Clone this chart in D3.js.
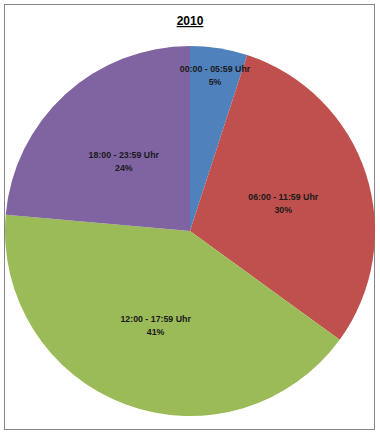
<!DOCTYPE html>
<html>
<head>
<meta charset="utf-8">
<script src="https://cdn.jsdelivr.net/npm/d3@7"></script>
<style>
html,body{margin:0;padding:0;background:#fff;}
svg{display:block;}
</style>
</head>
<body>
<svg id="chart" width="380" height="434"></svg>
<script>
const title = "2010";
const categories = ["00:00 - 05:59 Uhr", "06:00 - 11:59 Uhr", "12:00 - 17:59 Uhr", "18:00 - 23:59 Uhr"];
const values = [5.0, 30.0, 41.4, 23.6];
const colors = ["#4F81BD", "#C0504D", "#9BBB59", "#8064A2"];

const svg = d3.select("#chart");

svg.append("rect")
  .attr("x", 4.5).attr("y", 4.5)
  .attr("width", 370).attr("height", 425)
  .attr("fill", "#fff").attr("stroke", "#868686").attr("stroke-width", 1);

svg.append("text")
  .attr("x", 190).attr("y", 25)
  .attr("text-anchor", "middle")
  .attr("font-family", "Liberation Sans, Arial, sans-serif")
  .attr("font-weight", "bold")
  .attr("font-size", 12)
  .attr("text-decoration", "underline")
  .attr("fill", "#000")
  .text(title);

const cx = 190, cy = 231, r = 185;
const total = d3.sum(values);
const data = categories.map((c, i) => ({ cat: c, value: values[i], color: colors[i] }));

const pie = d3.pie().value(d => d.value).sort(null);
const arcs = pie(data);
const arc = d3.arc().innerRadius(0).outerRadius(r);

const g = svg.append("g").attr("transform", `translate(${cx},${cy})`);

g.selectAll("path.slice").data(arcs).enter().append("path")
  .attr("class", "slice")
  .attr("d", arc)
  .attr("fill", d => d.data.color);

const labelG = g.selectAll("g.lbl").data(arcs).enter().append("g").attr("class", "lbl")
  .attr("transform", d => {
    const frac = d.data.value / total;
    const lr = frac < 0.1 ? r * 0.865 : r * 0.53;
    const a = (d.startAngle + d.endAngle) / 2;
    return `translate(${lr * Math.sin(a)},${-lr * Math.cos(a)})`;
  });

labelG.append("text")
  .attr("text-anchor", "middle")
  .attr("font-family", "Liberation Sans, Arial, sans-serif")
  .attr("font-weight", "bold")
  .attr("font-size", 8.8)
  .attr("fill", "#1a1a1a")
  .selectAll("tspan")
  .data(d => [d.data.cat, Math.round(d.data.value / total * 100) + "%"])
  .enter().append("tspan")
  .attr("x", 0)
  .attr("dy", (t, i) => i === 0 ? "-1" : "13")
  .text(t => t);
</script>
</body>
</html>
